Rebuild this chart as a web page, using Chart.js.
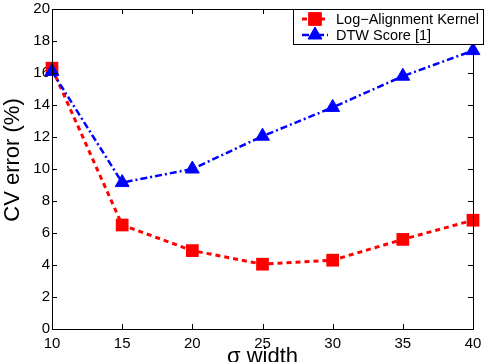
<!DOCTYPE html>
<html>
<head>
<meta charset="utf-8">
<script src="https://cdn.jsdelivr.net/npm/chart.js@4/dist/chart.umd.min.js"></script>
<style>
	html, body { margin: 0; padding: 0; background: #fff; }
	#wrap { width: 490px; height: 362px; }
</style>
</head>
<body>
<div id="wrap"><canvas id="myChart" width="490" height="362"></canvas></div>
<script>
	'use strict'

	// sigma widths and CV error (%)
	const sigmaWidths = [10, 15, 20, 25, 30, 35, 40];
	const logAlignment = [16.3, 6.5, 4.9, 4.05, 4.3, 5.6, 6.8];
	const dtwScore = [16.1, 9.15, 10.0, 12.05, 13.85, 15.8, 17.4];
	const xTicks = [10, 15, 20, 25, 30, 35, 40];
	const yTicks = [0, 2, 4, 6, 8, 10, 12, 14, 16, 18, 20];

	const FONT = '"Liberation Sans", Arial, Helvetica, sans-serif';

	const toPoints = (ys) => sigmaWidths.map((x, i) => ({ x: x, y: ys[i] }));

	// inward tick marks on all four sides, axis titles and legend box (matlab look)
	const matlabFrame = {
		id: 'matlabFrame',
		afterDraw(chart) {
			const { ctx, chartArea: a, scales } = chart;
			ctx.save();
			ctx.strokeStyle = '#000';
			ctx.lineWidth = 1;
			ctx.beginPath();
			xTicks.forEach((v) => {
				const px = Math.round(scales.x.getPixelForValue(v)) + 0.5;
				ctx.moveTo(px, a.bottom); ctx.lineTo(px, a.bottom - 5);
				ctx.moveTo(px, a.top); ctx.lineTo(px, a.top + 5);
			});
			yTicks.forEach((v) => {
				const py = Math.round(scales.y.getPixelForValue(v)) + 0.5;
				ctx.moveTo(a.left, py); ctx.lineTo(a.left + 5, py);
				ctx.moveTo(a.right, py); ctx.lineTo(a.right - 5, py);
			});
			ctx.stroke();
			ctx.strokeRect(Math.round(a.left) + 0.5, Math.round(a.top) + 0.5,
				Math.round(a.right - a.left), Math.round(a.bottom - a.top));

			// axis titles
			ctx.fillStyle = '#000';
			ctx.font = '22px ' + FONT;
			ctx.textAlign = 'center';
			ctx.textBaseline = 'middle';
			ctx.fillText('σ width', (a.left + a.right) / 2, 357);
			ctx.translate(13, 160);
			ctx.rotate(-Math.PI / 2);
			ctx.fillText('CV error (%)', 0, 0);
			ctx.restore();

			// legend
			ctx.save();
			ctx.fillStyle = '#fff';
			ctx.fillRect(293, 9, 191, 36);
			ctx.strokeStyle = '#000';
			ctx.lineWidth = 1;
			ctx.strokeRect(293.5, 9.5, 190, 35);
			ctx.font = '14.5px ' + FONT;
			ctx.textAlign = 'left';
			ctx.textBaseline = 'middle';
			const rows = [19, 35];
			chart.data.datasets.forEach((ds, i) => {
				const y = rows[i];
				ctx.save();
				ctx.strokeStyle = ds.borderColor;
				ctx.lineWidth = ds.borderWidth;
				ctx.setLineDash(ds.borderDash);
				ctx.beginPath();
				ctx.moveTo(302, y);
				ctx.lineTo(328, y);
				ctx.stroke();
				ctx.restore();
				ctx.fillStyle = ds.pointBackgroundColor;
				ctx.strokeStyle = ds.pointBorderColor;
				Chart.helpers.drawPoint(ctx, {
					pointStyle: ds.pointStyle,
					radius: ds.pointRadius,
					borderWidth: 1,
					rotation: 0
				}, 315, y);
				ctx.fillStyle = '#000';
				ctx.fillText(ds.label, 336, y + 1);
			});
			ctx.restore();
		}
	};

	const ctx = document.getElementById('myChart');
	// eslint-disable-next-line no-unused-vars
	const myChart = new Chart(ctx, {
		type: 'line',
		data: {
			datasets: [{
				label: 'Log\u2212Alignment Kernel',
				data: toPoints(logAlignment),
				order: 1,
				clip: false,
				borderColor: '#ff0000',
				borderWidth: 3,
				borderDash: [5, 4],
				pointStyle: 'rect',
				pointRadius: 9,
				pointBackgroundColor: '#ff0000',
				pointBorderColor: '#ff0000',
				pointBorderWidth: 0,
				tension: 0
			}, {
				label: 'DTW Score [1]',
				data: toPoints(dtwScore),
				order: 0,
				clip: false,
				borderColor: '#0000ff',
				borderWidth: 2.5,
				borderDash: [7, 3, 2, 3],
				pointStyle: 'triangle',
				pointRadius: 8,
				pointBackgroundColor: '#0000ff',
				pointBorderColor: '#0000ff',
				pointBorderWidth: 1,
				tension: 0
			}]
		},
		options: {
			responsive: false,
			animation: false,
			events: [],
			layout: { padding: { top: 5, right: 17, left: 0, bottom: 0 } },
			plugins: {
				legend: { display: false },
				tooltip: { enabled: false }
			},
			scales: {
				x: {
					type: 'linear',
					min: 10,
					max: 40,
					afterBuildTicks: (scale) => { scale.ticks = xTicks.map((v) => ({ value: v })); },
					afterFit: (scale) => {
						scale.height = 33;
						scale.paddingLeft = 0;
						scale.paddingRight = 0;
					},
					grid: { display: false, drawTicks: false },
					border: { display: false },
					ticks: {
						color: '#000',
						padding: 6,
						maxRotation: 0,
						font: { family: FONT, size: 15 }
					}
				},
				y: {
					min: 0,
					max: 20,
					afterBuildTicks: (scale) => { scale.ticks = yTicks.map((v) => ({ value: v })); },
					afterFit: (scale) => {
						scale.width = 52;
						scale.paddingTop = 0;
						scale.paddingBottom = 0;
					},
					grid: { display: false, drawTicks: false },
					border: { display: false },
					ticks: {
						color: '#000',
						padding: 2,
						font: { family: FONT, size: 15 }
					}
				}
			}
		},
		plugins: [matlabFrame]
	});
</script>
</body>
</html>
